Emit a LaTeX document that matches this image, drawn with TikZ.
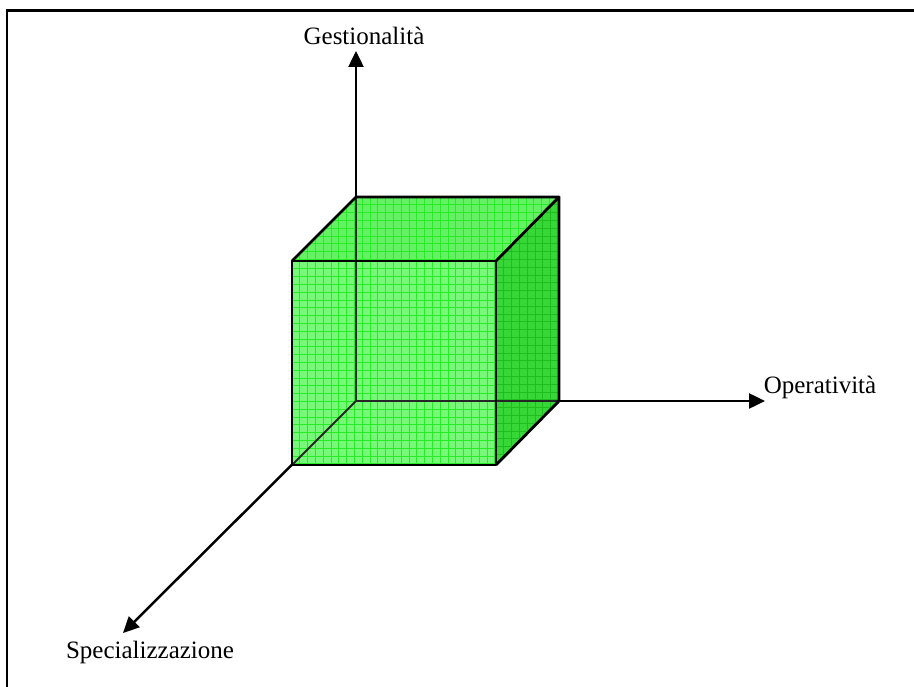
\documentclass[tikz,border=0pt]{standalone}
\usepackage{fontspec}
\setmainfont{Liberation Serif}
\usetikzlibrary{arrows.meta}
\definecolor{frontg}{RGB}{120,248,120}
\definecolor{topg}{RGB}{100,242,100}
\definecolor{sideg}{RGB}{55,215,55}
\definecolor{gridg}{RGB}{40,235,40}
\definecolor{gridd}{RGB}{30,190,30}
\tikzset{
  axis/.style={line width=2.5pt,-{Triangle[length=16pt,width=15pt]}},
  edge/.style={line width=2.8pt,line join=round},
  hidden/.style={line width=2pt,black!85},
  lbl/.style={font=\fontsize{25}{25}\selectfont,anchor=base,inner sep=0pt},
  gridline/.style={line width=0.9pt}
}
\begin{document}
\begin{tikzpicture}[x=1pt,y=-1pt]
\useasboundingbox (0,0) rectangle (914,687);
% frame
\draw[line width=2.5pt] (7,700) -- (7,10.5) -- (930,10.5);
% cube corners
\coordinate (A) at (292,261); \coordinate (B) at (496,261);
\coordinate (C) at (496,465); \coordinate (D) at (292,465);
\coordinate (E) at (356,197); \coordinate (F) at (559,197);
\coordinate (H) at (559,401); \coordinate (O) at (356,401);
% axis end points
\coordinate (G) at (356,51);
\coordinate (P) at (765,401);
\coordinate (S) at (123,633);
% axes
\draw[axis] (O) -- (G);
\draw[axis] (O) -- (P);
\draw[axis] (O) -- (S);
% faces
\begin{scope}
 \clip (A) -- (B) -- (C) -- (D) -- cycle;
 \fill[frontg] (A) rectangle (C);
 \foreach \i in {0,...,26} {\draw[gridg,gridline] (292+7.8*\i,250) -- (292+7.8*\i,470);
   \draw[gridg,gridline] (285,261+7.8*\i) -- (500,261+7.8*\i);}
\end{scope}
\begin{scope}
 \clip (A) -- (E) -- (F) -- (B) -- cycle;
 \fill[topg] (A) -- (E) -- (F) -- (B) -- cycle;
 \foreach \i in {0,...,36} {\draw[gridg,gridline] (292+7.8*\i,190) -- (292+7.8*\i,265);}
 \foreach \i in {0,...,9} {\draw[gridg,gridline] (285,197+7.8*\i) -- (565,197+7.8*\i);}
\end{scope}
\begin{scope}
 \clip (B) -- (F) -- (H) -- (C) -- cycle;
 \fill[sideg] (B) -- (F) -- (H) -- (C) -- cycle;
 \foreach \i in {0,...,9} {\draw[gridd,gridline] (496+7.8*\i,190) -- (496+7.8*\i,470);}
 \foreach \i in {0,...,36} {\draw[gridd,gridline] (490,197+7.8*\i) -- (565,197+7.8*\i);}
\end{scope}
% hidden edges
\draw[hidden] (E) -- (O) -- (H);
\draw[hidden] (O) -- (D);
% visible edges
\draw[edge] (A) -- (B) -- (C) -- (D) -- cycle;
\draw[edge] (A) -- (E) -- (F) -- (B);
\draw[edge] (F) -- (H) -- (C);
% labels
\node[lbl] (gl) at (364,45) {Gestionalità};
\node[lbl] (ol) at (820,393) {Operatività};
\node[lbl] (sl) at (150,658) {Specializzazione};
\end{tikzpicture}
\end{document}
